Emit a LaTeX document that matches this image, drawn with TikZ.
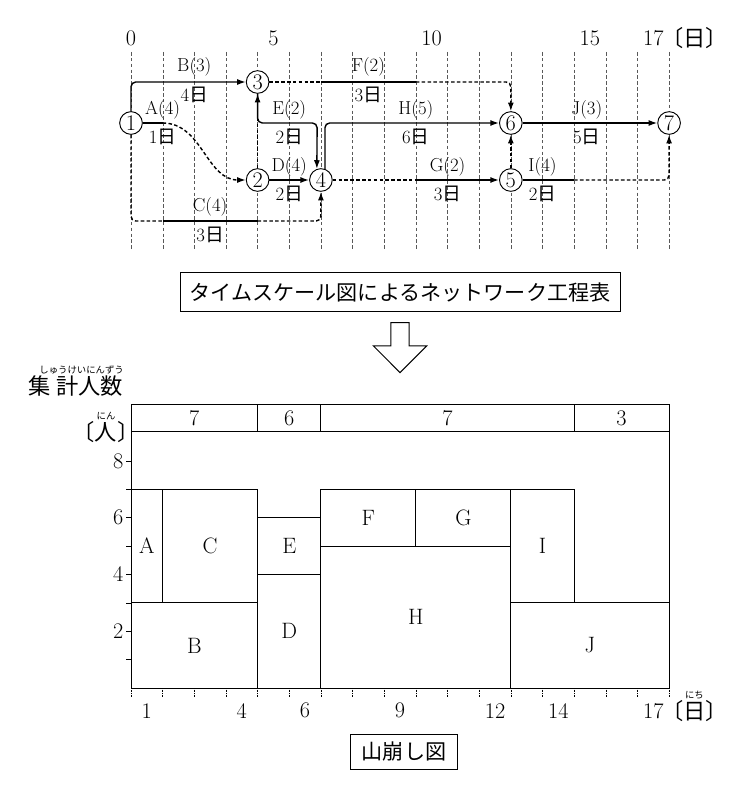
\documentclass[tikz,border=0pt]{standalone}
\usepackage{fontspec}
\newfontfamily\jp{Noto Sans CJK JP}
\usetikzlibrary{arrows.meta,shapes.arrows}

\begin{document}
\begin{tikzpicture}[x=0.03cm,y=-0.03cm,
    grid/.style ={densely dashed, very thin, gray!70!black},
    event/.style ={circle, draw, thick, fill=white, inner sep = 0pt, minimum size=0.68cm, font=\fontsize{19}{19}\selectfont},
    act/.style ={very thick, rounded corners=4pt, -{Latex[length=2.6mm,width=1.8mm]}},
    slack/.style ={very thick, densely dashed, rounded corners=4pt, -{Latex[length=2.6mm,width=1.8mm]}},
    lab/.style ={font=\fontsize{16}{16}\selectfont, inner sep=1pt},
    num/.style ={font=\fontsize{19}{19}\selectfont, inner sep=1pt},
    ruby/.style ={font=\jp\fontsize{8}{8}\selectfont, inner sep=0pt},
    block/.style ={draw, thick, font=\fontsize{19}{19}\selectfont}]
   \useasboundingbox (0,0) rectangle (731,789);

   % time scale network
   \begin{scope}[xshift=3.93cm, x=0.9495cm]
   \foreach \d in {0,...,17} \draw[grid] (\d,52) -- (\d,250);
   \node[num] (t0) at (0,38) {0};
   \node[num] (t5) at (4.5,38) {5};
   \node[num] (t10) at (9.5,38) {10};
   \node[num] (t15) at (14.5,38) {15};
   \node[num] (t17) at (16.5,38) {17};
   \node[num] (tu) at (17.8,38) {\jp〔日〕};

   \node[event] (n1) at (0,123) {1};
   \node[event] (n3) at (4,82) {3};
   \node[event] (n2) at (4,180) {2};
   \node[event] (n4) at (6,180) {4};
   \node[event] (n6) at (12,123) {6};
   \node[event] (n5) at (12,180) {5};
   \node[event] (n7) at (17,123) {7};

   \coordinate (a1) at (1,123);
   \coordinate (c0) at (1,221);
   \coordinate (c1) at (4,221);
   \coordinate (e1) at (5.88,123);
   \coordinate (f0) at (6,82);
   \coordinate (f1) at (9,82);
   \coordinate (g0) at (9,180);
   \coordinate (i0) at (14,180);

   \draw[act] (n1) |- (n3);
   \draw[act,-] (n1) -- (a1);
   \draw[slack] (a1) to[out=0,in=180] (n2);
   \draw[slack,-] (n1) |- (c0);
   \draw[act,-] (c0) -- (c1);
   \draw[slack] (c1) -| (n4);
   \draw[slack] (n2) -- (n3);
   \draw[act] (n2) -- (n4);
   \draw[act] (n3) |- (e1) -- (n4.110);
   \draw[act] (n4.70) |- (n6);
   \draw[slack,-] (n3) -- (f0);
   \draw[act,-] (f0) -- (f1);
   \draw[slack] (f1) -| (n6);
   \draw[slack,-] (n4) -- (g0);
   \draw[act] (g0) -- (n5);
   \draw[slack] (n5) -- (n6);
   \draw[act,-] (n5) -- (i0);
   \draw[slack] (i0) -| (n7);
   \draw[act] (n6) -- (n7);

   \node[lab] (lb) at (2,67) {B(3)};   \node[lab] (db) at (2,95) {4\jp 日};
   \node[lab] (la) at (1,110) {A(4)};  \node[lab] (da) at (1,137) {1\jp 日};
   \node[lab] (le) at (5,110) {E(2)};  \node[lab] (de) at (5,137) {2\jp 日};
   \node[lab] (lf) at (7.5,67) {F(2)}; \node[lab] (df) at (7.5,95) {3\jp 日};
   \node[lab] (lh) at (9,110) {H(5)};  \node[lab] (dh) at (9,137) {6\jp 日};
   \node[lab] (lj) at (14.4,110) {J(3)}; \node[lab] (dj) at (14.4,137) {5\jp 日};
   \node[lab] (ld) at (5,167) {D(4)};  \node[lab] (dd) at (5,194) {2\jp 日};
   \node[lab] (lg) at (10,167) {G(2)}; \node[lab] (dg) at (10,194) {3\jp 日};
   \node[lab] (li) at (13,167) {I(4)}; \node[lab] (di) at (13,194) {2\jp 日};
   \node[lab] (lc) at (2.5,207) {C(4)}; \node[lab] (dc) at (2.5,235) {3\jp 日};
   \end{scope}

   \node[draw, thick, font=\jp\fontsize{18}{18}\selectfont, minimum width=13.2cm, minimum height=1.15cm] (ttl) at (400,292) {タイムスケール図によるネットワーク工程表};
   \node[single arrow, draw, thick, shape border rotate=270, minimum width=1.6cm, single arrow head extend=0.25cm, minimum height=1.5cm] (dn) at (400,343) {};

   % resource loading chart
   \begin{scope}[xshift=3.93cm, yshift=-20.64cm, x=0.9495cm, y=0.852cm]
   \draw[thick] (0,0) rectangle (17,10);
   \draw[thick] (0,9.05) -- (17,9.05);
   \draw[thick] (4,9.05) -- (4,10) (6,9.05) -- (6,10) (14,9.05) -- (14,10);
   \node[num] (s1) at (2,9.5) {7};
   \node[num] (s2) at (5,9.5) {6};
   \node[num] (s3) at (10,9.5) {7};
   \node[num] (s4) at (15.5,9.5) {3};

   \node[block, minimum width=1*0.9495cm, minimum height=4*0.852cm] (bA) at (0.5,5) {A};
   \node[block, minimum width=3*0.9495cm, minimum height=4*0.852cm] (bC) at (2.5,5) {C};
   \node[block, minimum width=4*0.9495cm, minimum height=3*0.852cm] (bB) at (2,1.5) {B};
   \node[block, minimum width=2*0.9495cm, minimum height=4*0.852cm] (bD) at (5,2) {D};
   \node[block, minimum width=2*0.9495cm, minimum height=2*0.852cm] (bE) at (5,5) {E};
   \node[block, minimum width=6*0.9495cm, minimum height=5*0.852cm] (bH) at (9,2.5) {H};
   \node[block, minimum width=3*0.9495cm, minimum height=2*0.852cm] (bF) at (7.5,6) {F};
   \node[block, minimum width=3*0.9495cm, minimum height=2*0.852cm] (bG) at (10.5,6) {G};
   \node[block, minimum width=2*0.9495cm, minimum height=4*0.852cm] (bI) at (13,5) {I};
   \node[block, minimum width=5*0.9495cm, minimum height=3*0.852cm] (bJ) at (14.5,1.5) {J};

   \foreach \p in {1,...,8} \draw (-0.15,\p) -- (0,\p);
   \foreach \p in {2,4,6,8} \node[num, anchor=east] at (-0.2,\p) {\p};
   \foreach \d in {0,...,17} \draw[densely dotted] (\d,0) -- (\d,-0.3);
   \foreach \d in {1,4,6,9,12,14,17} \node[num] at (\d-0.5,-0.8) {\d};
   \node[num] (du) at (17.8,-0.8) {\jp〔日〕};
   \node[ruby] (dr) at (17.8,-0.25) {にち};
   \end{scope}

   \node[font=\jp\fontsize{19}{19}\selectfont, anchor=east] (tot) at (127,386) {集 計人数};
   \node[ruby, anchor=east] (totr) at (124,370) {しゅうけいにんずう};
   \node[font=\jp\fontsize{19}{19}\selectfont] (per) at (106,432) {〔人〕};
   \node[ruby] (perr) at (106,416) {にん};

   \node[draw, thick, font=\jp\fontsize{18}{18}\selectfont, minimum height=1.05cm, minimum width=3.2cm] (ym) at (404,752) {山崩し図};
 \end{tikzpicture}
\end{document}
